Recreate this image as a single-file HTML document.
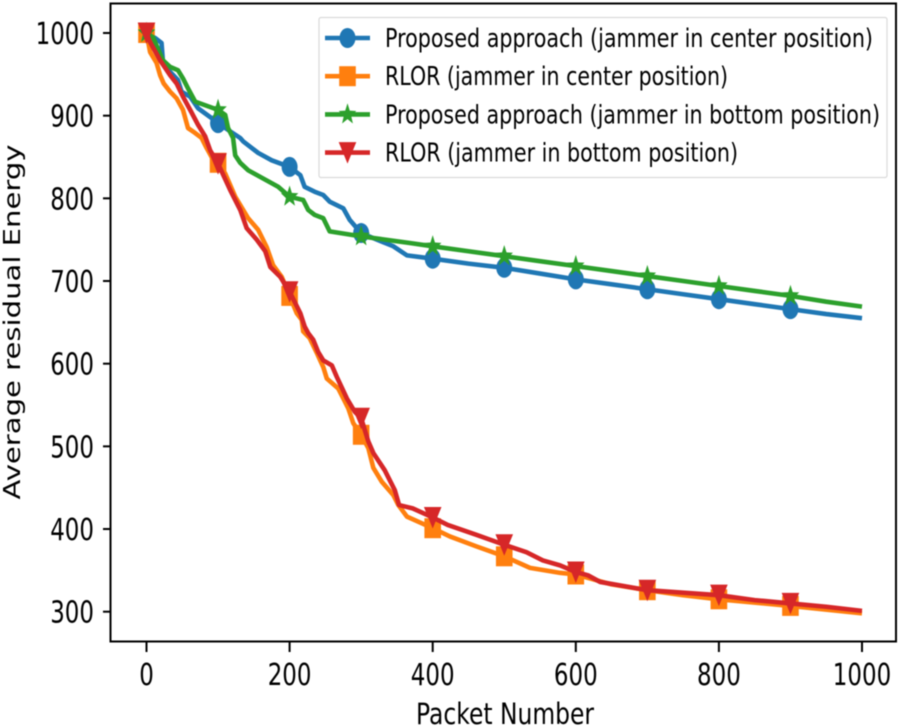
<!DOCTYPE html>
<html lang="en">
<head>
<meta charset="utf-8">
<title>Average residual energy vs packet number</title>
<style>
  html, body { margin: 0; padding: 0; background: #fff; width: 901px; height: 728px; overflow: hidden; }
  svg { display: block; filter: blur(0.55px); }
  text { font-family: "DejaVu Sans", "Liberation Sans", sans-serif; fill: #000; }
</style>
</head>
<body>
<svg id="chart" xmlns="http://www.w3.org/2000/svg" width="901" height="728" viewBox="0 0 901 728"></svg>
<script>
const xTicks = [0, 200, 400, 600, 800, 1000];
const yTicks = [300, 400, 500, 600, 700, 800, 900, 1000];

const blueLabel = "Proposed approach (jammer in center position)";
const bluePackets = [0, 12, 21, 23, 33, 44, 49, 61, 72, 91, 100, 117, 131, 135, 156, 175, 200, 215, 221, 235, 247, 256, 275, 284, 300, 322, 345, 364, 400, 450, 500, 550, 600, 650, 700, 750, 800, 850, 900, 950, 1000];
const blueEnergy = [1000, 994, 988, 965, 953, 943, 929, 923, 909, 897, 891, 881, 873, 869, 855, 846, 838, 828, 814, 808, 804, 796, 788, 774, 758, 750, 742, 731, 727, 721, 716, 709, 702, 696, 690, 684, 678, 672, 666, 660, 655];

const orangeLabel = "RLOR (jammer in center position)";
const orangePackets = [0, 5, 14, 19, 24, 33, 42, 51, 58, 68, 77, 84, 91, 100, 110, 124, 142, 156, 168, 177, 189, 200, 210, 217, 219, 228, 238, 247, 252, 268, 275, 282, 289, 300, 310, 317, 329, 345, 352, 364, 400, 424, 461, 500, 536, 578, 600, 650, 700, 750, 800, 900, 1000];
const orangeEnergy = [1000, 977, 964, 949, 939, 929, 921, 907, 885, 879, 873, 861, 850, 843, 830, 802, 776, 762, 741, 719, 705, 682, 661, 653, 639, 631, 613, 596, 582, 570, 558, 546, 528, 514, 498, 474, 457, 441, 429, 415, 401, 391, 379, 367, 353, 347, 345, 333, 326, 320, 315, 307, 298];

const greenLabel = "Proposed approach (jammer in bottom position)";
const greenPackets = [0, 9, 23, 33, 44, 51, 58, 68, 100, 110, 114, 121, 124, 131, 142, 163, 184, 200, 219, 226, 235, 247, 256, 300, 368, 400, 450, 500, 550, 600, 650, 700, 750, 800, 850, 900, 950, 1000];
const greenEnergy = [1000, 995, 967, 959, 955, 945, 933, 917, 907, 901, 885, 873, 852, 843, 834, 824, 814, 802, 798, 786, 780, 776, 760, 754, 746, 742, 736, 730, 724, 718, 712, 706, 700, 694, 688, 682, 675, 669];

const redLabel = "RLOR (jammer in bottom position)";
const redPackets = [0, 5, 19, 33, 42, 51, 61, 72, 82, 89, 100, 117, 131, 140, 154, 166, 173, 187, 200, 215, 221, 226, 233, 240, 247, 259, 266, 280, 291, 300, 310, 317, 333, 347, 353, 372, 400, 421, 461, 500, 531, 554, 578, 600, 617, 634, 700, 750, 800, 850, 900, 950, 1000];
const redEnergy = [1000, 989, 967, 949, 939, 923, 907, 889, 875, 858, 842, 810, 786, 764, 750, 736, 717, 705, 687, 661, 645, 637, 629, 614, 604, 598, 584, 558, 542, 534, 506, 492, 471, 447, 429, 425, 414, 405, 393, 381, 372, 362, 356, 348, 344, 336, 326, 323, 320, 314, 310, 306, 301];

const xAxisTitle = "Packet Number";
const yAxisTitle = "Average residual Energy";

const NS = "http://www.w3.org/2000/svg";
const svg = document.getElementById("chart");

function xScale(v) { return 146.5 + v * 0.7155; }
function yScale(v) { return 33 + (1000 - v) * 0.8267; }

function make(tag, attrs, parent) {
  const el = document.createElementNS(NS, tag);
  for (const k in attrs) el.setAttribute(k, attrs[k]);
  (parent || svg).appendChild(el);
  return el;
}

function drawMarker(kind, cx, cy, color, parent) {
  let el;
  if (kind === "circle") {
    el = make("ellipse", { cx: cx, cy: cy, rx: 8, ry: 10, fill: color }, parent);
  } else if (kind === "square") {
    el = make("rect", { x: cx - 8.3, y: cy - 10, width: 16.6, height: 20, fill: color }, parent);
  } else if (kind === "triangle") {
    el = make("polygon", { points: (cx - 8.8) + "," + (cy - 10.5) + " " + (cx + 8.8) + "," + (cy - 10.5) + " " + cx + "," + (cy + 11), fill: color }, parent);
  } else {
    const pts = [];
    for (let i = 0; i < 10; i++) {
      const a = -Math.PI / 2 + i * Math.PI / 5;
      const rr = i % 2 === 0 ? 1 : 0.42;
      pts.push((cx + Math.cos(a) * 9.2 * rr).toFixed(2) + "," + (cy + Math.sin(a) * 11.2 * rr).toFixed(2));
    }
    el = make("polygon", { points: pts.join(" "), fill: color }, parent);
  }
  return el;
}

function drawText(str, x, y, size, len, anchor, parent, extra) {
  const attrs = { x: x, y: y, "font-size": size, "text-anchor": anchor, textLength: len, lengthAdjust: "spacingAndGlyphs" };
  if (extra) attrs.transform = extra;
  const el = make("text", attrs, parent);
  el.textContent = str;
  return el;
}

const seriesList = [
  { key: "proposed-center", label: blueLabel, px: bluePackets, en: blueEnergy, color: "#1f77b4", marker: "circle", len: 488 },
  { key: "rlor-center", label: orangeLabel, px: orangePackets, en: orangeEnergy, color: "#ff7f0e", marker: "square", len: 343 },
  { key: "proposed-bottom", label: greenLabel, px: greenPackets, en: greenEnergy, color: "#2ca02c", marker: "star", len: 495 },
  { key: "rlor-bottom", label: redLabel, px: redPackets, en: redEnergy, color: "#d62728", marker: "triangle", len: 353 }
];

/* series */
seriesList.forEach(function (s) {
  const group = make("g", {});
  
  
  const pts = s.px.map(function (p, i) { return xScale(p).toFixed(2) + "," + yScale(s.en[i]).toFixed(2); }).join(" ");
  const line = make("polyline", { points: pts, fill: "none", stroke: s.color, "stroke-width": 4.6, "stroke-linejoin": "round" }, group);
  
  
  s.px.forEach(function (p, i) {
    if (p % 100 === 0 && p < 1000) {
      const m = drawMarker(s.marker, xScale(p), yScale(s.en[i]), s.color, group);
      
      
    }
  });
});

/* axes frame */
const frame = make("rect", { x: 110.5, y: 3.5, width: 785.5, height: 638, fill: "none", stroke: "#000", "stroke-width": 2 });



/* x ticks */
xTicks.forEach(function (t) {
  const tick = make("line", { x1: xScale(t), x2: xScale(t), y1: 642, y2: 652, stroke: "#000", "stroke-width": 2 });
  
  
  const lab = drawText(String(t), xScale(t), 685, 30, 14.6 * String(t).length, "middle");
  
  
});

/* y ticks */
yTicks.forEach(function (t) {
  const tick = make("line", { x1: 103, x2: 110, y1: yScale(t), y2: yScale(t), stroke: "#000", "stroke-width": 2 });
  
  
  const lab = drawText(String(t), 94, yScale(t) + 11, 30, 14.6 * String(t).length, "end");
  
  
});

/* axis titles */
const xTitle = drawText(xAxisTitle, 505, 724, 29, 178, "middle");


const yTitle = drawText(yAxisTitle, 0, 0, 23, 355, "middle", null, "translate(20 322) rotate(-90)");



/* legend */
const legend = make("g", {});


const legendBox = make("rect", { x: 319, y: 17.5, width: 568, height: 160, rx: 2, fill: "#fff", "fill-opacity": 0.8, stroke: "#d9d9d9", "stroke-width": 1.2 }, legend);


seriesList.forEach(function (s, i) {
  const rowY = 38 + i * 38.2;
  const entry = make("g", {}, legend);
  
  
  make("line", { x1: 325, x2: 370, y1: rowY, y2: rowY, stroke: s.color, "stroke-width": 4.6 }, entry);
  drawMarker(s.marker, 347.5, rowY, s.color, entry);
  drawText(s.label, 385, rowY + 9, 26, s.len, "start", entry);
});
</script>
</body>
</html>
